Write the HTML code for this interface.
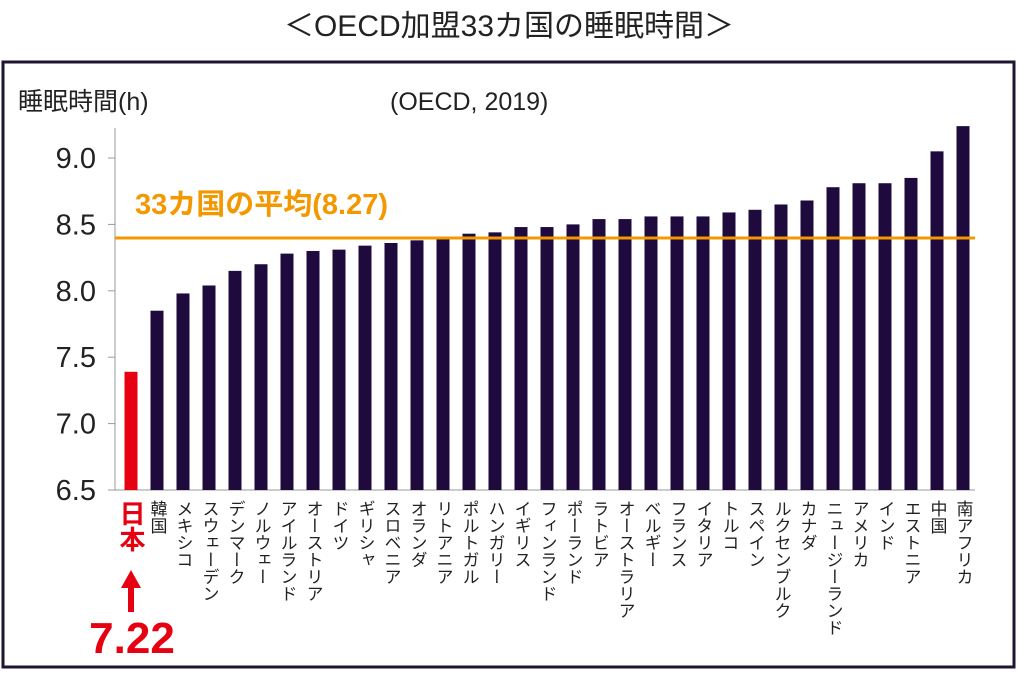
<!DOCTYPE html>
<html><head><meta charset="utf-8"><style>
body{margin:0;width:1018px;height:672px;background:#fff;overflow:hidden;font-family:"Liberation Sans","Noto Sans CJK JP",sans-serif}
</style></head><body>
<svg width="1018" height="672" font-family="Liberation Sans, Noto Sans CJK JP, sans-serif">
<text x="509" y="36" text-anchor="middle" font-size="30" fill="#222">＜OECD加盟33カ国の睡眠時間＞</text>
<rect x="3" y="62" width="1011" height="605" fill="none" stroke="#1f1530" stroke-width="3"/>
<text x="18" y="110" font-size="25" fill="#222">睡眠時間(h)</text>
<text x="390" y="110" font-size="25" fill="#222">(OECD, 2019)</text>
<g id="axes"></g><g id="bars"></g><g id="labels"></g>
<line x1="115" y1="238" x2="975" y2="238" stroke="#f39800" stroke-width="3"/>
<text x="135" y="214" font-size="29" font-weight="bold" fill="#f39800">33カ国の平均(8.27)</text>
<text x="131" y="500" font-size="26" font-weight="bold" fill="#e60012" style="writing-mode:vertical-rl">日本</text>
<polygon points="131,570 141,588 134,588 134,612 128,612 128,588 121,588" fill="#e60012"/>
<text x="132" y="653" text-anchor="middle" font-size="44" font-weight="bold" fill="#e60012">7.22</text>
</svg>
<script>
const categories=["日本","韓国","メキシコ","スウェーデン","デンマーク","ノルウェー","アイルランド","オーストリア","ドイツ","ギリシャ","スロベニア","オランダ","リトアニア","ポルトガル","ハンガリー","イギリス","フィンランド","ポーランド","ラトビア","オーストラリア","ベルギー","フランス","イタリア","トルコ","スペイン","ルクセンブルク","カナダ","ニュージーランド","アメリカ","インド","エストニア","中国","南アフリカ"];
const values=[7.39,7.85,7.98,8.04,8.15,8.20,8.28,8.30,8.31,8.34,8.36,8.38,8.39,8.43,8.44,8.48,8.48,8.50,8.54,8.54,8.56,8.56,8.56,8.59,8.61,8.65,8.68,8.78,8.81,8.81,8.85,9.05,9.24];
const yTicks=["6.5","7.0","7.5","8.0","8.5","9.0"];
const NS="http://www.w3.org/2000/svg";
function y(v){return 490-(v-6.5)*132.8;}
function x(i){return 131+i*26;}
function mk(t,a,p){const e=document.createElementNS(NS,t);for(const k in a)e.setAttribute(k,a[k]);p.appendChild(e);return e;}
const ax=document.getElementById('axes'),bg=document.getElementById('bars'),lg=document.getElementById('labels');
let l=mk('line',{x1:115,y1:128,x2:115,y2:490,stroke:'#999','stroke-width':1},ax);


l=mk('line',{x1:108,y1:490,x2:975,y2:490,stroke:'#999','stroke-width':1},ax);


yTicks.forEach(t=>{const yy=y(parseFloat(t));
 const tk=mk('line',{x1:108,y1:yy,x2:115,y2:yy,stroke:'#999'},ax);
 
 
 const tx=mk('text',{x:96,y:yy+10,'text-anchor':'end','font-size':29,fill:'#222'},ax);tx.textContent=t;
 
 
});
values.forEach((v,i)=>{
 const r=mk('rect',{x:x(i)-6.5,y:y(v),width:13,height:490-y(v),fill:i===0?'#e60012':'#1e0a3c'},bg);
 
 
 if(i>0){const t=mk('text',{x:x(i),y:500,'font-size':17,fill:'#222',style:'writing-mode:vertical-rl'},lg);t.textContent=categories[i];
 
 }
});
</script>
</body></html>
